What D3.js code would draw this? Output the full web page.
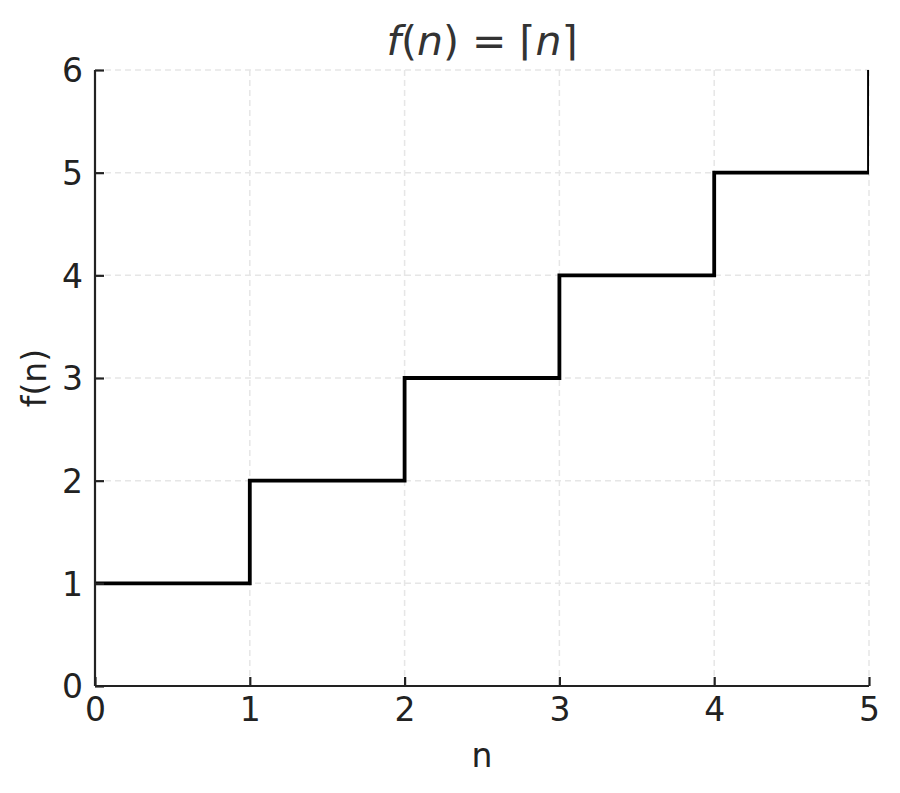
<!DOCTYPE html>
<html>
<head>
<meta charset="utf-8">
<script src="https://cdn.jsdelivr.net/npm/d3@7"></script>
<style>
  body { margin: 0; background: #fff; }
  text { font-family: "DejaVu Sans", sans-serif; }
</style>
</head>
<body>
<div class="container"></div>
<script>
// step points of f(n) = ceil(n), drawn "post" style
var nValues = [0, 1, 2, 3, 4, 5];
var fValues = [1, 2, 3, 4, 5, 6];
var xTicks = [0, 1, 2, 3, 4, 5];
var yTicks = [0, 1, 2, 3, 4, 5, 6];

const WIDTH = 900;
const HEIGHT = 793;
const LEFT = 95, RIGHT = 869, TOP = 70, BOTTOM = 686;

var svg = d3.select('.container').append('svg')
  .attr('width', WIDTH)
  .attr('height', HEIGHT);

var xScale = d3.scaleLinear().domain([0, 5]).range([LEFT, RIGHT]);
var yScale = d3.scaleLinear().domain([0, 6]).range([BOTTOM, TOP]);

// grid
svg.append('g').selectAll('line.gx')
  .data(xTicks).enter().append('line')
  .attr('x1', d => xScale(d)).attr('x2', d => xScale(d))
  .attr('y1', TOP).attr('y2', BOTTOM)
  .attr('stroke', '#e6e6e6').attr('stroke-width', 1.5)
  .attr('stroke-dasharray', '6,4');
svg.append('g').selectAll('line.gy')
  .data(yTicks).enter().append('line')
  .attr('y1', d => yScale(d)).attr('y2', d => yScale(d))
  .attr('x1', LEFT).attr('x2', RIGHT)
  .attr('stroke', '#e6e6e6').attr('stroke-width', 1.5)
  .attr('stroke-dasharray', '6,4');

// clip to axes area
svg.append('clipPath').attr('id', 'plotclip')
  .append('rect').attr('x', LEFT).attr('y', TOP)
  .attr('width', RIGHT - LEFT).attr('height', BOTTOM - TOP);

var pts = nValues.map((n, i) => [n, fValues[i]]);
var stepLine = d3.line()
  .x(d => xScale(d[0]))
  .y(d => yScale(d[1]))
  .curve(d3.curveStepAfter);

svg.append('path')
  .datum(pts)
  .attr('clip-path', 'url(#plotclip)')
  .attr('d', stepLine)
  .attr('fill', 'none')
  .attr('stroke', '#000')
  .attr('stroke-width', 3.8);

// axes
var xAxis = d3.axisBottom(xScale).tickValues(xTicks).tickSize(-9).tickPadding(12).tickFormat(d3.format('d'));
var yAxis = d3.axisLeft(yScale).tickValues(yTicks).tickSize(-9).tickPadding(12).tickFormat(d3.format('d'));

var gx = svg.append('g').attr('transform', 'translate(0,' + BOTTOM + ')').call(xAxis);
var gy = svg.append('g').attr('transform', 'translate(' + LEFT + ',0)').call(yAxis);

[gx, gy].forEach(function (g) {
  g.select('.domain').attr('stroke', '#222').attr('stroke-width', 2.2);
  g.selectAll('.tick line').attr('stroke', '#222').attr('stroke-width', 2.2);
  g.selectAll('.tick text').attr('fill', '#222').style('font-size', '33px')
    .style('font-family', '"DejaVu Sans", sans-serif');
});
gx.selectAll('.tick text').attr('dy', '0.71em');
gy.selectAll('.tick text').attr('dy', '0.36em');
gx.select('.domain').attr('d', 'M' + LEFT + ',0H' + RIGHT);
gy.select('.domain').attr('d', 'M0,' + BOTTOM + 'V' + TOP);

// axis labels
svg.append('text')
  .attr('x', (LEFT + RIGHT) / 2).attr('y', 767)
  .attr('text-anchor', 'middle')
  .attr('fill', '#222').style('font-size', '33px')
  .text('n');

svg.append('text')
  .attr('transform', 'translate(46,' + (TOP + BOTTOM) / 2 + ') rotate(-90)')
  .attr('text-anchor', 'middle')
  .attr('fill', '#222').style('font-size', '33px')
  .text('f(n)');

// title
var title = svg.append('text')
  .attr('x', (LEFT + RIGHT) / 2).attr('y', 55)
  .attr('text-anchor', 'middle')
  .attr('fill', '#333').style('font-size', '41px');
title.append('tspan').style('font-style', 'italic').text('f');
title.append('tspan').text('(');
title.append('tspan').style('font-style', 'italic').text('n');
title.append('tspan').text(') = ⌈');
title.append('tspan').style('font-style', 'italic').text('n');
title.append('tspan').text('⌉');
</script>
</body>
</html>
